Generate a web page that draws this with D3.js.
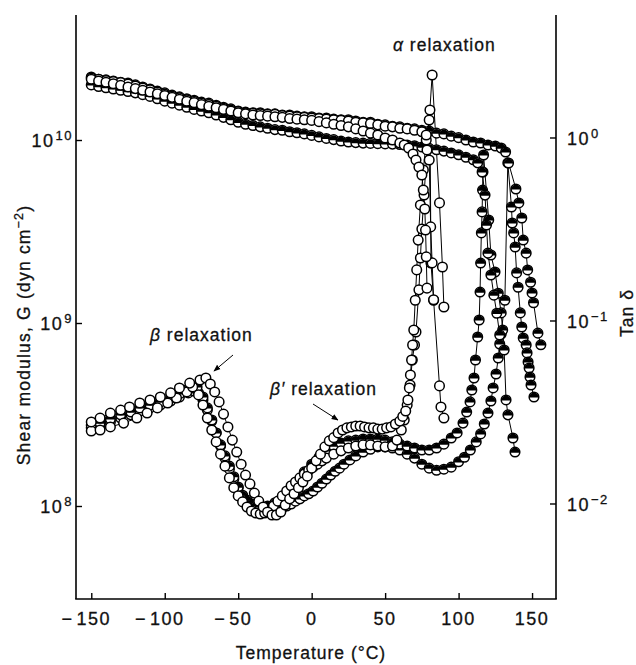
<!DOCTYPE html>
<html>
<head>
<meta charset="utf-8">
<script src="https://cdn.jsdelivr.net/npm/d3@7"></script>
<style>
  body { margin: 0; background: #fff; }
  svg { display: block; }
  text { font-family: "Liberation Sans", Arial, Helvetica, sans-serif; fill: #111; stroke: #111; stroke-width: 0.3px; }
</style>
</head>
<body>
<svg id="chart" width="636" height="665"></svg>
<script>
// Shear modulus G (in units of 1e9 dyn cm^-2) against temperature (°C)
const shearA1 = [[-150,21.5],[-145,21.0],[-140,20.7],[-135,20.3],[-130,19.9],[-125,19.5],[-120,19.1],[-115,18.7],[-110,18.3],[-105,17.9],[-100,17.5],[-95,17.1],[-90,16.7],[-85,16.3],[-80,16.0],[-75,15.6],[-70,15.3],[-65,15.0],[-60,14.7],[-55,14.4],[-50,14.1],[-45,13.9],[-40,13.7],[-35,13.6],[-30,13.5],[-25,13.4],[-20,13.3],[-15,13.1],[-10,13.0],[-5,12.9],[0,12.8],[5,12.6],[10,12.4],[15,12.2],[20,12.0],[25,11.8],[30,11.5],[35,11.2],[40,10.9],[45,10.65],[50,10.25],[55,10.0],[60,9.63],[63,9.39],[66,9.04],[69,8.39],[71,7.78],[73,7.12],[75,6.44],[76,5.33],[77,4.2],[77.5,3.22],[78,2.3],[78.5,1.55]];
const shearA2 = [[-150,21.8],[-145,21.5],[-140,21.1],[-135,20.9],[-130,20.6],[-125,20.2],[-120,19.7],[-115,19.2],[-110,18.8],[-105,18.3],[-100,17.8],[-95,17.4],[-90,17.0],[-85,16.6],[-80,16.3],[-75,15.9],[-70,15.6],[-65,15.3],[-60,14.9],[-55,14.6],[-50,14.3],[-45,14.1],[-40,14.0],[-35,13.9],[-30,13.8],[-25,13.8],[-20,13.6],[-15,13.5],[-10,13.4],[-5,13.3],[0,13.2],[5,13.1],[10,13.0],[15,12.9],[20,12.8],[25,12.7],[30,12.5],[35,12.4],[40,12.3],[45,12.1],[50,11.9],[55,11.8],[60,11.6],[65,11.5],[70,11.3],[75,11.1],[78,10.65],[80,7.78],[81,3.35],[82,2.13],[83,1.34]];
const shearB = [[-150,20.0],[-145,19.6],[-140,19.3],[-135,19.0],[-130,18.7],[-125,18.4],[-120,18.1],[-115,17.7],[-110,17.3],[-105,16.8],[-100,16.3],[-95,15.9],[-90,15.5],[-85,15.1],[-80,14.7],[-75,14.4],[-70,14.1],[-65,13.7],[-60,13.3],[-55,12.9],[-50,12.5],[-45,12.2],[-40,12.0],[-35,11.8],[-30,11.6],[-25,11.4],[-20,11.3],[-15,11.1],[-10,10.95],[-5,10.8],[0,10.6],[5,10.4],[10,10.2],[15,10.05],[20,9.87],[25,9.75],[30,9.68],[35,9.62],[40,9.58],[45,9.55],[50,9.52],[55,9.5],[60,9.45],[65,9.4],[70,9.3],[75,9.15],[80,9.0],[85,8.85],[90,8.7],[95,8.5],[100,8.3],[105,8.05],[110,7.8],[113,7.5],[116,6.69],[118,5.0],[119,3.43],[120,2.41],[122,1.83],[124,1.42],[126,1.13],[128,0.86]];
const shearC = [[-150,22.1],[-145,21.5],[-140,21.3],[-135,21.0],[-130,20.7],[-125,20.5],[-120,20.0],[-115,19.5],[-110,19.0],[-105,18.5],[-100,18.1],[-95,17.6],[-90,17.2],[-85,16.8],[-80,16.5],[-75,16.1],[-70,15.9],[-65,15.5],[-60,15.1],[-55,14.8],[-50,14.4],[-45,14.2],[-40,14.1],[-35,14.1],[-30,13.9],[-25,13.9],[-20,13.7],[-15,13.7],[-10,13.5],[-5,13.4],[0,13.4],[5,13.2],[10,13.2],[15,13.0],[20,12.9],[25,12.9],[30,12.7],[35,12.5],[40,12.5],[45,12.2],[50,12.1],[55,11.9],[60,11.8],[65,11.6],[70,11.5],[75,11.3],[80,11.2],[85,10.9],[90,10.8],[95,10.5],[100,10.3],[105,10.0],[110,9.75],[115,9.63],[120,9.39],[125,9.27],[129,9.04],[132,8.60],[134,7.49],[139,5.40],[141,4.53],[143,3.75],[144,2.84],[146,2.41],[147,1.95],[149,1.67],[150,1.46],[151,1.29],[154,0.88],[156,0.76]];

// Loss tangent tan δ against temperature (°C)
const tanA1 = [[-150,0.0279],[-144,0.0293],[-137,0.0312],[-130,0.0324],[-124,0.0337],[-117,0.0354],[-110,0.0368],[-103,0.0382],[-96,0.0402],[-90,0.0428],[-83,0.0455],[-76,0.0473],[-72,0.0485],[-69,0.0450],[-66,0.0407],[-63,0.0359],[-60,0.0308],[-57,0.0262],[-54,0.0222],[-51,0.0191],[-48,0.0164],[-45,0.0143],[-42,0.0128],[-39,0.0114],[-36,0.0103],[-33,0.00957],[-30,0.00899],[-27,0.00865],[-24,0.00865],[-21,0.00899],[-18,0.00981],[-15,0.0106],[-12,0.0113],[-9,0.0122],[-6,0.0131],[-3,0.0141],[0,0.0156],[3,0.0171],[6,0.0186],[9,0.0204],[12,0.0220],[15,0.0229],[18,0.0243],[21,0.0252],[24,0.0259],[27,0.0262],[30,0.0265],[33,0.0265],[36,0.0262],[39,0.0259],[42,0.0259],[45,0.0255],[48,0.0255],[51,0.0259],[54,0.0262],[57,0.0272],[60,0.0282],[62,0.0299],[64,0.0320],[65.5,0.0368],[66.5,0.0428],[67.2,0.0504],[68,0.0608],[68.7,0.0735],[69.5,0.0887],[70.5,0.129],[71.5,0.189],[72.5,0.275],[74,0.428],[76,0.664],[78,0.969],[80,1.246],[82,2.196],[87,0.439],[89,0.196],[90,0.1185]];
const tanA2 = [[-150,0.0249],[-144,0.0252],[-137,0.0262],[-128,0.0275],[-119,0.0293],[-112,0.0312],[-105,0.0333],[-98,0.0354],[-92,0.0377],[-85,0.0407],[-81,0.0433],[-77,0.0392],[-74,0.0345],[-71,0.0293],[-68,0.0252],[-65,0.0217],[-62,0.0186],[-59,0.0160],[-56,0.0138],[-53,0.0122],[-50,0.0110],[-47,0.0102],[-44,0.00957],[-41,0.00910],[-38,0.00887],[-35,0.00876],[-32,0.00887],[-29,0.00922],[-26,0.00969],[-23,0.0103],[-20,0.0110],[-17,0.0117],[-14,0.0125],[-11,0.0131],[-8,0.0138],[-5,0.0145],[-2,0.0152],[1,0.0158],[4,0.0164],[7,0.0171],[10,0.0177],[15,0.0186],[20,0.0194],[25,0.0201],[30,0.0206],[35,0.0209],[40,0.0209],[45,0.0206],[50,0.0204],[55,0.0206],[58,0.0222],[61,0.0252],[63,0.0286],[65,0.0345],[67,0.0444],[68.5,0.0608],[70,0.0735],[71,0.0865],[73,0.147],[74,0.2196],[75,0.316],[76.5,0.485],[78.5,0.855],[80.5,1.413],[81.2,0.206],[83,0.129],[87,0.0439],[88,0.0337],[90,0.0293]];
const tanB = [[-150,0.0268],[-144,0.0275],[-137,0.0290],[-130,0.0305],[-123,0.0316],[-117,0.0333],[-110,0.0345],[-103,0.0359],[-96,0.0377],[-90,0.0397],[-84,0.0417],[-78,0.0433],[-74,0.0382],[-71,0.0333],[-68,0.0286],[-65,0.0243],[-62,0.0209],[-59,0.0182],[-56,0.0160],[-53,0.0140],[-50,0.0123],[-47,0.0111],[-44,0.01045],[-41,0.00994],[-38,0.00969],[-35,0.00957],[-30,0.00969],[-25,0.0101],[-20,0.0107],[-15,0.0117],[-10,0.0131],[-5,0.0149],[0,0.0164],[5,0.0179],[10,0.0194],[15,0.0206],[20,0.0214],[25,0.0220],[30,0.0222],[35,0.0225],[40,0.0225],[45,0.0225],[50,0.0222],[55,0.0217],[60,0.0211],[65,0.0206],[70,0.0201],[75,0.0196],[80,0.0196],[85,0.0201],[90,0.0211],[95,0.0228],[99,0.0243],[103,0.0275],[105.5,0.0316],[107.8,0.0359],[109,0.0417],[110.5,0.0485],[111.5,0.0608],[113,0.0812],[114,0.1006],[114.6,0.143],[115,0.206],[115.5,0.301],[116,0.392],[116.3,0.516],[116.6,0.648],[117,0.802],[120.5,0.354],[122,0.228],[124.8,0.184],[127,0.141],[129,0.110],[130,0.0887],[131,0.0690],[132.3,0.0368],[133.6,0.0305],[137,0.0228],[138.4,0.0191]];
const tanC = [[-150,0.0259],[-144,0.0265],[-137,0.0279],[-130,0.0293],[-123,0.0305],[-117,0.0320],[-110,0.0333],[-103,0.0345],[-96,0.0363],[-90,0.0382],[-84,0.0402],[-80,0.0412],[-77,0.0402],[-74,0.0368],[-71,0.0324],[-68,0.0282],[-65,0.0243],[-62,0.0206],[-59,0.0177],[-56,0.0154],[-53,0.0136],[-50,0.0122],[-47,0.0110],[-44,0.0102],[-41,0.00969],[-38,0.00933],[-35,0.00910],[-32,0.00899],[-29,0.00899],[-26,0.00910],[-23,0.00922],[-20,0.00945],[-17,0.00969],[-14,0.00994],[-11,0.0103],[-8,0.0106],[-5,0.0110],[-2,0.0113],[1,0.0117],[4,0.0123],[7,0.0129],[10,0.0136],[13,0.0143],[16,0.0150],[19,0.0156],[22,0.0164],[26,0.0173],[30,0.0182],[35,0.0191],[40,0.0198],[45,0.0204],[50,0.0204],[55,0.0201],[60,0.0196],[65,0.0186],[70,0.0177],[75,0.0164],[80,0.0156],[85,0.0152],[90,0.0154],[95,0.0158],[100,0.0169],[104,0.0179],[108,0.0196],[112,0.0217],[115,0.0240],[117.5,0.0272],[120,0.0312],[122,0.0363],[123.5,0.0428],[125.5,0.0510],[127,0.0624],[128,0.0744],[129,0.0844],[131.5,0.129],[133.5,0.726],[136,0.417],[136.5,0.341],[137.5,0.301],[138.5,0.252],[139.5,0.182],[140.5,0.152],[142,0.110],[143,0.0921],[144,0.0802],[146,0.0735],[146.6,0.0665],[147.3,0.0593],[148,0.0550],[148.6,0.0491],[149.3,0.0444],[151.3,0.0382]];

// Axis ticks
const tempTicks = [-150, -100, -50, 0, 50, 100, 150];
const shearTicks = [1e8, 1e9, 1e10];
const tanTicks = [1e-2, 1e-1, 1];

const svg = d3.select("#chart");
const box = { left: 76, right: 556, top: 15, bottom: 599 };

const x = d3.scaleLinear().domain([-160.4, 166.3]).range([box.left, box.right]);
const yG = d3.scaleLog().domain([3.103e7, 4.821e10]).range([box.bottom, box.top]);
const yT = d3.scaleLog().domain([0.003007, 4.670]).range([box.bottom, box.top]);

const series = [
  { data: tanC,    y: d => yT(d[1]),       kind: "half" },
  { data: tanB,    y: d => yT(d[1]),       kind: "half" },
  { data: shearC,  y: d => yG(d[1] * 1e9), kind: "half" },
  { data: shearB,  y: d => yG(d[1] * 1e9), kind: "half" },
  { data: tanA2,   y: d => yT(d[1]),       kind: "open" },
  { data: tanA1,   y: d => yT(d[1]),       kind: "open" },
  { data: shearA2, y: d => yG(d[1] * 1e9), kind: "open" },
  { data: shearA1, y: d => yG(d[1] * 1e9), kind: "open" }
];

// connecting lines
const lineLayer = svg.append("g");
series.forEach(s => {
  const line = d3.line().x(d => x(d[0])).y(s.y);
  lineLayer.append("path")
    .attr("d", line(s.data))
    .attr("fill", "none")
    .attr("stroke", "#000")
    .attr("stroke-width", 1);
});

// markers
const R = 4.8;
const markLayer = svg.append("g");
series.forEach(s => {
  const g = markLayer.append("g");
  const pts = g.selectAll("g").data(s.data).join("g")
    .attr("transform", d => `translate(${x(d[0])},${s.y(d)})`);
  pts.append("circle")
    .attr("r", R)
    .attr("fill", "#fff")
    .attr("stroke", "#000")
    .attr("stroke-width", 1.5);
  if (s.kind === "half") {
    pts.append("path")
      .attr("d", `M${-R},0.6 A${R},${R} 0 0 1 ${R},0.6 Z`)
      .attr("fill", "#000");
  }
});

// axes frame
const axisStroke = 1.6;
const frame = svg.append("g").attr("stroke", "#000").attr("stroke-width", axisStroke).attr("fill", "none");
frame.append("line").attr("x1", box.left).attr("x2", box.left).attr("y1", box.top).attr("y2", box.bottom);
frame.append("line").attr("x1", box.right).attr("x2", box.right).attr("y1", box.top).attr("y2", box.bottom);
frame.append("line").attr("x1", box.left - 0.8).attr("x2", box.right + 0.8).attr("y1", box.bottom).attr("y2", box.bottom);

const xAxis = svg.append("g").attr("transform", `translate(0,${box.bottom})`)
  .call(d3.axisBottom(x).tickValues(tempTicks).tickSize(-6).tickSizeOuter(0).tickFormat(""));
const lAxis = svg.append("g").attr("transform", `translate(${box.left},0)`)
  .call(d3.axisLeft(yG).tickValues(shearTicks).tickSize(-6).tickSizeOuter(0).tickFormat(""));
const rAxis = svg.append("g").attr("transform", `translate(${box.right},0)`)
  .call(d3.axisRight(yT).tickValues(tanTicks).tickSize(-6).tickSizeOuter(0).tickFormat(""));
[xAxis, lAxis, rAxis].forEach(a => {
  a.select(".domain").remove();
  a.selectAll(".tick line").attr("stroke", "#000").attr("stroke-width", 1.4);
});

// temperature tick labels
tempTicks.forEach(t => {
  const txt = svg.append("text")
    .attr("x", x(t) + (t < 0 ? -5 : 0))
    .attr("y", 625)
    .attr("text-anchor", "middle")
    .attr("font-size", 18)
    .style("letter-spacing", "1.5px");
  if (t < 0) {
    txt.append("tspan").text("\u2212");
    txt.append("tspan").attr("dx", 3).text(String(Math.abs(t)));
  } else {
    txt.text(String(t));
  }
});

// power-of-ten labels
function powerLabel(sel, exp) {
  sel.append("tspan").text("10");
  sel.append("tspan")
    .attr("font-size", 13)
    .attr("dy", -7)
    .attr("dx", 1)
    .text(exp < 0 ? "\u2212" + Math.abs(exp) : String(exp));
}
shearTicks.forEach(v => {
  const t = svg.append("text")
    .attr("x", 73).attr("y", yG(v) + 7)
    .attr("text-anchor", "end")
    .attr("font-size", 18)
    .style("letter-spacing", "1.5px");
  powerLabel(t, Math.round(Math.log10(v)));
});
tanTicks.forEach(v => {
  const t = svg.append("text")
    .attr("x", 567).attr("y", yT(v) + 8)
    .attr("text-anchor", "start")
    .attr("font-size", 18)
    .style("letter-spacing", "1.5px");
  powerLabel(t, Math.round(Math.log10(v)));
});

// axis titles
svg.append("text")
  .attr("x", 311).attr("y", 659)
  .attr("text-anchor", "middle")
  .attr("font-size", 17.5)
  .style("letter-spacing", "1px")
  .text("Temperature (\u00B0C)");

const yTitle = svg.append("text")
  .attr("transform", "translate(30,335) rotate(-90)")
  .attr("text-anchor", "middle")
  .attr("font-size", 17.5)
  .style("letter-spacing", "1.2px");
yTitle.append("tspan").text("Shear modulus, ");
yTitle.append("tspan").text("G");
yTitle.append("tspan").text(" (dyn cm");
yTitle.append("tspan").attr("font-size", 12.5).attr("dy", -7).text("\u22122");
yTitle.append("tspan").attr("dy", 7).text(")");

const rTitle = svg.append("text")
  .attr("transform", "translate(633,313) rotate(-90)")
  .attr("text-anchor", "middle")
  .attr("font-size", 17.5)
  .style("letter-spacing", "1px");
rTitle.append("tspan").text("Tan ");
rTitle.append("tspan").text("\u03B4");

// relaxation annotations
function note(xp, yp, greek, rest) {
  const t = svg.append("text").attr("x", xp).attr("y", yp)
    .attr("font-size", 17.5).style("letter-spacing", "1px");
  t.append("tspan").attr("font-style", "italic").text(greek);
  t.append("tspan").text(rest);
}
note(393, 51, "\u03B1", " relaxation");
note(150, 341, "\u03B2", " relaxation");
note(270, 395, "\u03B2\u2032", " relaxation");

svg.append("defs").append("marker")
  .attr("id", "arrowhead")
  .attr("viewBox", "0 0 10 10")
  .attr("refX", 9).attr("refY", 5)
  .attr("markerWidth", 7).attr("markerHeight", 7)
  .attr("orient", "auto")
  .append("path").attr("d", "M0,1 L10,5 L0,9 Z").attr("fill", "#000");

[[233, 355, 214, 371], [313, 404, 338, 420]].forEach(a => {
  svg.append("line")
    .attr("x1", a[0]).attr("y1", a[1]).attr("x2", a[2]).attr("y2", a[3])
    .attr("stroke", "#000").attr("stroke-width", 1)
    .attr("marker-end", "url(#arrowhead)");
});
</script>
</body>
</html>
